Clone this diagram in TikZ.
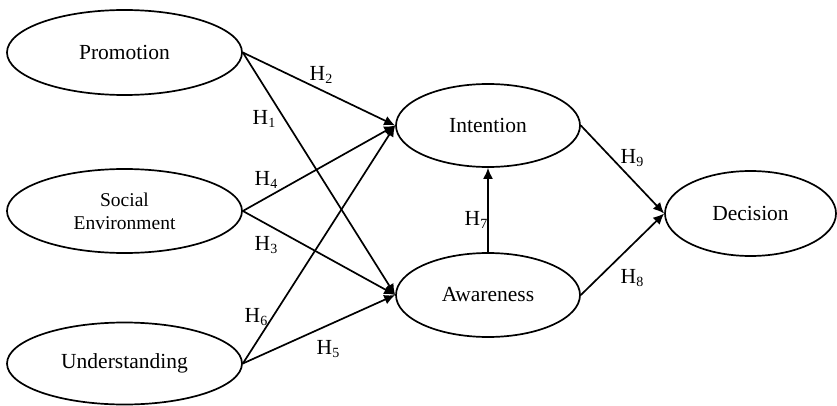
\documentclass[tikz,border=0pt]{standalone}
\usepackage{fontspec}
\setmainfont{Liberation Serif}
\usetikzlibrary{shapes.geometric,arrows.meta}
\tikzset{
  construct/.style={draw, ellipse, line width=1.7pt, inner sep=0pt, font=\fontsize{21.5}{24}\selectfont},
  link/.style={line width=1.7pt, -{Latex[length=11pt,width=10pt]}},
  hyp/.style={inner sep=0pt, font=\fontsize{21.5}{24}\selectfont}
}
\newcommand{\hsub}[1]{H\raisebox{-3pt}{\fontsize{14}{14}\selectfont #1}}
\begin{document}
\begin{tikzpicture}[x=1pt,y=-1pt]
\useasboundingbox (0,0) rectangle (837,406);
\node[construct, minimum width=235pt, minimum height=85pt] (pro) at (124.5,52.5) {Promotion};
\node[construct, minimum width=235pt, minimum height=84pt, font=\fontsize{19.5}{23}\selectfont, align=center] (soc) at (124.5,211) {Social\\Environment};
\node[construct, minimum width=235pt, minimum height=82pt] (und) at (124.5,363.5) {Understanding};
\node[construct, minimum width=184pt, minimum height=83pt] (int) at (488,125.5) {Intention};
\node[construct, minimum width=184pt, minimum height=84pt] (awa) at (488,295) {Awareness};
\node[construct, minimum width=171pt, minimum height=85pt] (dec) at (750.5,213.5) {Decision};

\draw[link] (pro.east) -- (int.west);
\draw[link] (pro.east) -- (awa.west);
\draw[link] (soc.east) -- (int.west);
\draw[link] (soc.east) -- (awa.west);
\draw[link] (und.east) -- (int.west);
\draw[link] (und.east) -- (awa.west);
\draw[link] (awa.north) -- (int.south);
\draw[link] (int.east) -- (dec.west);
\draw[link] (awa.east) -- (dec.west);

\node[hyp] (h2) at (321,75) {\hsub{2}};
\node[hyp] (h1) at (264,119) {\hsub{1}};
\node[hyp] (h4) at (266,180) {\hsub{4}};
\node[hyp] (h3) at (266,245) {\hsub{3}};
\node[hyp] (h6) at (256,317) {\hsub{6}};
\node[hyp] (h5) at (328,349) {\hsub{5}};
\node[hyp] (h7) at (476,220) {\hsub{7}};
\node[hyp] (h9) at (632,158) {\hsub{9}};
\node[hyp] (h8) at (632,278) {\hsub{8}};
\end{tikzpicture}
\end{document}
